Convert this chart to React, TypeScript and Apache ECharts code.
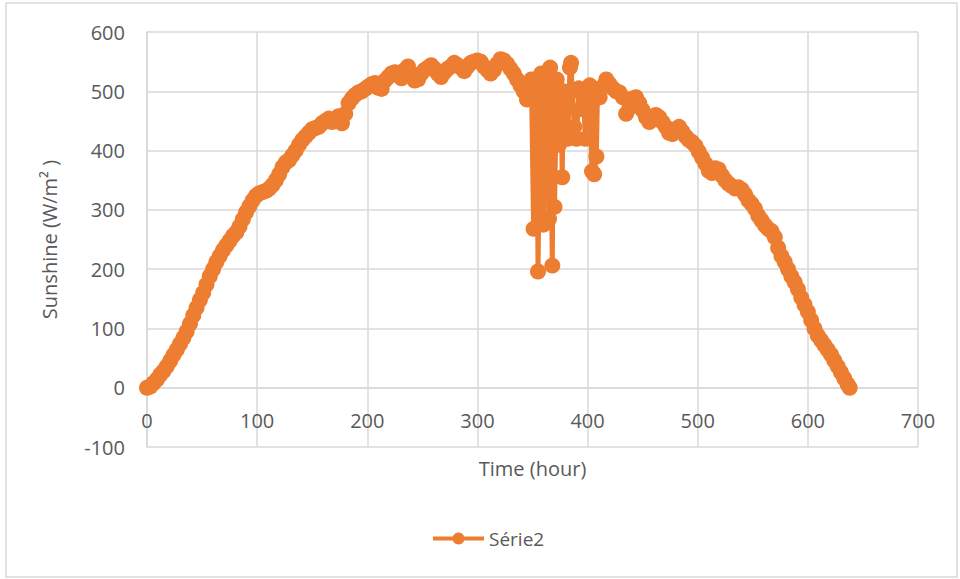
import React, { useEffect, useRef } from "react";
import * as echarts from "echarts";

const seriesName = "Série2";
const xTitle = "Time (hour)";
const yTitle = "Sunshine (W/m² )";

const hours = [
  0, 3, 6, 9, 12, 15, 18, 21, 24, 27, 30, 33, 36, 39, 42, 45, 48, 51, 54, 57,
  60, 63, 66, 69, 72, 75, 78, 81, 84, 87, 90, 93, 96, 99, 102, 105, 108, 111, 114, 117,
  120, 123, 126, 129, 132, 135, 138, 141, 144, 147, 150, 153, 156, 159, 162, 165, 168, 171, 174, 177,
  180, 183, 186, 189, 192, 195, 198, 201, 204, 207, 210, 213, 216, 219, 222, 225, 228, 231, 234, 237,
  240, 243, 246, 249, 252, 255, 258, 261, 264, 267, 270, 273, 276, 279, 282, 285, 288, 291, 294, 297,
  300, 303, 306, 309, 312, 315, 318, 321, 324, 327, 330, 333, 336, 339, 342, 345,
  347, 349, 351, 352, 354, 355, 357, 358, 360, 362, 364, 365, 366, 368, 369, 370, 372, 374, 376, 377,
  378, 380, 382, 384, 385, 386, 388, 390, 392, 394, 396, 398, 400, 402, 404, 405, 406, 408, 409, 411,
  414, 417, 420, 423, 426, 429, 432, 435, 438, 441, 444, 447, 450, 453, 456, 459, 462, 465, 468, 471,
  474, 477, 480, 483, 486, 489, 492, 495, 498, 501, 504, 507, 510, 513, 516, 519, 522, 525, 528, 531,
  534, 537, 540, 543, 546, 549, 552, 555, 558, 561, 564, 567, 570, 573, 576, 579, 582, 585, 588, 591,
  594, 597, 600, 603, 606, 609, 612, 615, 618, 621, 624, 627, 630, 633, 636, 638,
];

const sunshine = [
  0, 2, 8, 14, 22, 28, 36, 45, 55, 64, 74, 84, 95, 108, 122, 135, 148, 160, 174, 188,
  200, 212, 222, 232, 240, 248, 256, 262, 272, 284, 296, 306, 316, 324, 328, 330, 332, 336, 342, 350,
  360, 372, 380, 384, 392, 400, 410, 418, 424, 430, 436, 438, 440, 446, 450, 454, 448, 452, 458, 446,
  462, 480, 488, 494, 498, 500, 504, 508, 512, 514, 506, 504, 518, 524, 530, 532, 528, 522, 536, 542,
  526, 518, 520, 530, 536, 540, 544, 538, 530, 524, 532, 538, 542, 548, 544, 540, 534, 542, 548, 550,
  552, 550, 542, 536, 530, 536, 546, 554, 552, 546, 538, 530, 520, 510, 500, 486,
  500, 520, 268, 520, 510, 196, 500, 530, 275, 515, 528, 285, 540, 206, 500, 305, 520, 410, 480, 355,
  500, 470, 420, 540, 548, 500, 440, 420, 505, 470, 500, 420, 500, 510, 365, 495, 360, 390, 500, 490,
  508, 520, 512, 505, 500, 498, 490, 462, 472, 488, 490, 480, 468, 456, 448, 452, 460, 456, 448, 440,
  430, 428, 436, 440, 432, 424, 418, 414, 408, 398, 388, 378, 366, 362, 370, 368, 358, 350, 344, 340,
  336, 338, 334, 326, 316, 310, 302, 290, 282, 274, 268, 264, 254, 236, 222, 212, 200, 188, 178, 166,
  152, 140, 128, 114, 100, 88, 80, 72, 64, 56, 46, 36, 26, 16, 6, 0,
];

const xTicks = { min: 0, max: 700, step: 100 };
const yTicks = { min: -100, max: 600, step: 100 };

const ORANGE = "#ED7D31";
const TEXT = "#595959";
const GRID = "#d9d9d9";
const FONT = "'Open Sans', 'Noto Sans', sans-serif";

export default function App() {
  const ref = useRef<HTMLDivElement>(null);
  useEffect(() => {
    if (!ref.current) return;
    const chart = echarts.init(ref.current, undefined, { renderer: "svg" });
    const data = hours.map((h, i) => [h, sunshine[i]]);
    chart.setOption({
      animation: false,
      backgroundColor: "#ffffff",
      textStyle: { fontFamily: FONT },
      graphic: [
        {
          type: "rect",
          shape: { x: 6, y: 3, width: 951, height: 574 },
          style: { fill: "none", stroke: GRID, lineWidth: 1.5 },
          silent: true,
          z: -10,
        },
      ],
      grid: { left: 147, right: 42, top: 32, bottom: 132, containLabel: false },
      legend: {
        data: [seriesName],
        bottom: 26,
        left: 426,
        itemWidth: 51,
        itemHeight: 15,
        itemGap: 10,
        lineStyle: { width: 4, color: ORANGE },
        textStyle: { color: TEXT, fontSize: 19, fontFamily: FONT },
      },
      xAxis: {
        type: "value",
        min: xTicks.min,
        max: xTicks.max,
        interval: xTicks.step,
        offset: -59,
        name: xTitle,
        nameLocation: "middle",
        nameGap: 70,
        nameMoveOverlap: false,
        nameTextStyle: { color: TEXT, fontSize: 20, fontFamily: FONT },
        axisLine: { show: true, onZero: false, lineStyle: { color: GRID, width: 1.5 } },
        axisTick: { show: false },
        axisLabel: { color: TEXT, fontSize: 20, margin: 22, fontFamily: FONT },
        splitLine: { show: true, lineStyle: { color: GRID, width: 1.5 } },
      },
      yAxis: {
        type: "value",
        min: yTicks.min,
        max: yTicks.max,
        interval: yTicks.step,
        name: yTitle,
        nameLocation: "middle",
        nameGap: 88,
        nameTextStyle: { color: TEXT, fontSize: 20, fontFamily: FONT },
        axisLine: { show: true, lineStyle: { color: GRID, width: 1.5 } },
        axisTick: { show: false },
        axisLabel: { color: TEXT, fontSize: 20, margin: 22, fontFamily: FONT },
        splitLine: { show: true, lineStyle: { color: GRID, width: 1.5 } },
      },
      series: [
        {
          name: seriesName,
          type: "line",
          data,
          symbol: "circle",
          symbolSize: 16,
          showAllSymbol: true,
          lineStyle: { color: ORANGE, width: 5 },
          itemStyle: { color: ORANGE },
          z: 3,
        },
      ],
    });
    return () => chart.dispose();
  }, []);
  return (
    <div
      ref={ref}
      style={{ position: "fixed", left: 0, top: 0, width: 960, height: 579 }}
    />
  );
}
